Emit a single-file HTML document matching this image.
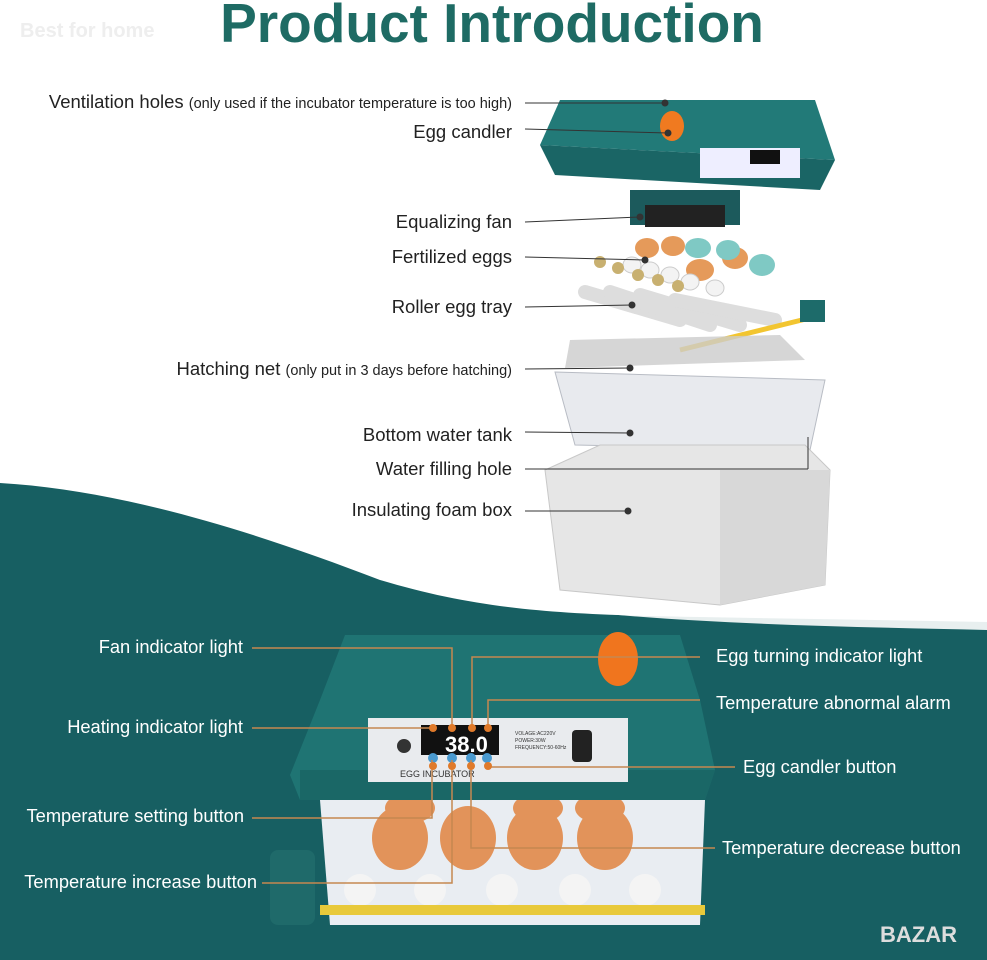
<!DOCTYPE html>
<html><head><meta charset="utf-8"><style>
body{margin:0;width:987px;height:960px;overflow:hidden;background:#fff;font-family:"Liberation Sans",sans-serif}
svg{display:block}
</style></head><body>
<svg width="987" height="960" viewBox="0 0 987 960" xmlns="http://www.w3.org/2000/svg" font-family="Liberation Sans, sans-serif">
<rect width="987" height="960" fill="#fff"/>
<path d="M0 483 C120 490 250 530 380 580 C480 610 560 615 700 617 L987 622 L987 960 L0 960 Z" fill="#175f62"/>
<path d="M500 600 C600 612 800 615 987 618 L987 630 C800 626 620 622 500 600Z" fill="#ffffff" opacity="0.9"/>
<text x="492" y="42" text-anchor="middle" font-size="55" font-weight="bold" fill="#1e6b64">Product Introduction</text>
<text x="20" y="37" font-size="20" font-weight="bold" fill="#eee">Best for home</text>

<path d="M560 100 L815 100 L835 160 L540 145 Z" fill="#227a78"/>
<path d="M540 145 L835 160 L820 190 L555 175 Z" fill="#1a6565"/>
<rect x="700" y="148" width="100" height="30" fill="#eef" />
<rect x="750" y="150" width="30" height="14" fill="#111"/>
<ellipse cx="672" cy="126" rx="12" ry="15" fill="#f07a20"/>
<rect x="630" y="190" width="110" height="35" fill="#1c5a5c"/>
<rect x="645" y="205" width="80" height="22" fill="#222"/>
<g fill="#e59a5a"><ellipse cx="647" cy="248" rx="12" ry="10"/><ellipse cx="673" cy="246" rx="12" ry="10"/><ellipse cx="735" cy="258" rx="13" ry="11"/><ellipse cx="700" cy="270" rx="14" ry="11"/></g>
<g fill="#7fc9c4"><ellipse cx="698" cy="248" rx="13" ry="10"/><ellipse cx="762" cy="265" rx="13" ry="11"/><ellipse cx="728" cy="250" rx="12" ry="10"/></g>
<g fill="#f3f3f3" stroke="#ccc"><ellipse cx="632" cy="265" rx="9" ry="8"/><ellipse cx="650" cy="270" rx="9" ry="8"/><ellipse cx="670" cy="275" rx="9" ry="8"/><ellipse cx="690" cy="282" rx="9" ry="8"/><ellipse cx="715" cy="288" rx="9" ry="8"/></g>
<g fill="#c8b070"><circle cx="600" cy="262" r="6"/><circle cx="618" cy="268" r="6"/><circle cx="638" cy="275" r="6"/><circle cx="658" cy="280" r="6"/><circle cx="678" cy="286" r="6"/></g>
<g stroke="#ddd" stroke-width="14" stroke-linecap="round"><line x1="585" y1="292" x2="680" y2="320"/><line x1="610" y1="292" x2="710" y2="325"/><line x1="640" y1="295" x2="740" y2="325"/><line x1="675" y1="300" x2="775" y2="320"/></g>
<line x1="680" y1="350" x2="810" y2="318" stroke="#f2c530" stroke-width="5"/>
<rect x="800" y="300" width="25" height="22" fill="#1d6b6a"/>
<path d="M570 340 L780 335 L805 360 L565 368 Z" fill="#ccc" opacity="0.8"/>
<path d="M555 372 L825 380 L810 450 L575 445 Z" fill="#e8eaee" stroke="#b8bcc4"/>
<path d="M545 470 L600 445 L805 445 L830 470 L825 585 L720 605 L560 590 Z" fill="#e6e6e6" stroke="#c8c8c8"/>
<path d="M720 470 L830 470 L825 585 L720 605 Z" fill="#d8d8d8"/>

<g stroke="#333" stroke-width="1" fill="#333">
<line x1="525" y1="103" x2="665" y2="103"/><circle cx="665" cy="103" r="3"/>
<line x1="525" y1="129" x2="668" y2="133"/><circle cx="668" cy="133" r="3"/>
<line x1="525" y1="222" x2="640" y2="217"/><circle cx="640" cy="217" r="3"/>
<line x1="525" y1="257" x2="645" y2="260"/><circle cx="645" cy="260" r="3"/>
<line x1="525" y1="307" x2="632" y2="305"/><circle cx="632" cy="305" r="3"/>
<line x1="525" y1="369" x2="630" y2="368"/><circle cx="630" cy="368" r="3"/>
<line x1="525" y1="432" x2="630" y2="433"/><circle cx="630" cy="433" r="3"/>
<line x1="525" y1="469" x2="808" y2="469"/><line x1="808" y1="469" x2="808" y2="437"/>
<line x1="525" y1="511" x2="628" y2="511"/><circle cx="628" cy="511" r="3"/>
</g>
<g font-size="18.5" fill="#222" text-anchor="end">
<text x="512" y="108">Ventilation holes <tspan font-size="14.5">(only used if the incubator temperature is too high)</tspan></text>
<text x="512" y="138">Egg candler</text>
<text x="512" y="228">Equalizing fan</text>
<text x="512" y="263">Fertilized eggs</text>
<text x="512" y="313">Roller egg tray</text>
<text x="512" y="375">Hatching net <tspan font-size="14.5">(only put in 3 days before hatching)</tspan></text>
<text x="512" y="441">Bottom water tank</text>
<text x="512" y="475">Water filling hole</text>
<text x="512" y="516">Insulating foam box</text>
</g>

<path d="M320 800 L705 800 L700 925 L330 925 Z" fill="#e9edf2"/>
<g fill="#e2935a"><ellipse cx="400" cy="838" rx="28" ry="32"/><ellipse cx="468" cy="838" rx="28" ry="32"/><ellipse cx="535" cy="838" rx="28" ry="32"/><ellipse cx="605" cy="838" rx="28" ry="32"/><ellipse cx="410" cy="808" rx="25" ry="15"/><ellipse cx="538" cy="808" rx="25" ry="15"/><ellipse cx="600" cy="808" rx="25" ry="15"/></g>
<g fill="#f4f4f4"><circle cx="360" cy="890" r="16"/><circle cx="430" cy="890" r="16"/><circle cx="502" cy="890" r="16"/><circle cx="575" cy="890" r="16"/><circle cx="645" cy="890" r="16"/></g>
<rect x="320" y="905" width="385" height="10" fill="#e8c93a"/>
<rect x="270" y="850" width="45" height="75" rx="8" fill="#1f6a6a"/>
<path d="M345 635 L680 635 L700 700 L715 770 L705 800 L300 800 L290 775 L320 700 Z" fill="#1f7473"/>
<path d="M300 770 L715 770 L705 800 L300 800 Z" fill="#1a6766"/>
<ellipse cx="618" cy="659" rx="20" ry="27" fill="#f0751e"/>
<rect x="368" y="718" width="260" height="64" fill="#e9ebee"/>
<rect x="421" y="725" width="78" height="30" fill="#111"/>
<text x="445" y="752" font-size="22" font-weight="bold" fill="#fff">38.0</text>
<circle cx="404" cy="746" r="7" fill="#333"/>
<g><circle cx="433" cy="758" r="5" fill="#4a9ad0"/><circle cx="452" cy="758" r="5" fill="#4a9ad0"/><circle cx="471" cy="758" r="5" fill="#4a9ad0"/><circle cx="487" cy="758" r="5" fill="#4a9ad0"/></g>
<text x="400" y="777" font-size="9" fill="#333">EGG INCUBATOR</text>
<rect x="572" y="730" width="20" height="32" rx="4" fill="#222"/>
<g font-size="5" fill="#333"><text x="515" y="735">VOLAGE:AC220V</text><text x="515" y="742">POWER:30W</text><text x="515" y="749">FREQUENCY:50-60Hz</text></g>

<g stroke="#c58850" stroke-width="1.5" fill="none">
<polyline points="252,648 452,648 452,725"/>
<polyline points="252,728 433,728"/>
<polyline points="252,818 432,818 432,760"/>
<polyline points="262,883 452,883 452,760"/>
<polyline points="700,657 472,657 472,725"/>
<polyline points="700,700 488,700 488,725"/>
<polyline points="735,767 488,767"/>
<polyline points="715,848 471,848 471,760"/>
</g>
<g fill="#e07a2a"><circle cx="433" cy="728" r="4"/><circle cx="452" cy="728" r="4"/><circle cx="472" cy="728" r="4"/><circle cx="488" cy="728" r="4"/><circle cx="433" cy="766" r="4"/><circle cx="452" cy="766" r="4"/><circle cx="471" cy="766" r="4"/><circle cx="488" cy="766" r="4"/></g>
<g font-size="18.3" fill="#fff">
<text x="243" y="653" text-anchor="end">Fan indicator light</text>
<text x="243" y="733" text-anchor="end">Heating indicator light</text>
<text x="244" y="822" text-anchor="end">Temperature setting button</text>
<text x="257" y="888" text-anchor="end">Temperature increase button</text>
<text x="716" y="662">Egg turning indicator light</text>
<text x="716" y="709">Temperature abnormal alarm</text>
<text x="743" y="773">Egg candler button</text>
<text x="722" y="854">Temperature decrease button</text>
<text x="880" y="942" font-size="22" font-weight="bold" fill="#ddd">BAZAR</text>
</g>
</svg>
</body></html>
